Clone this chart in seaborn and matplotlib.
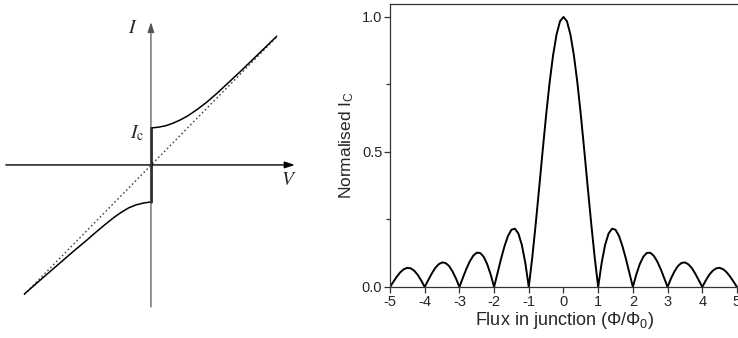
import numpy as np
import matplotlib
matplotlib.use("Agg")
import matplotlib.pyplot as plt
import seaborn as sns

# --- left panel: schematic I-V curve (units of Ic) ---
upper_v = [0, 0.2, 0.4, 0.6, 0.8, 1.0, 1.25, 1.5, 1.8, 2.1, 2.4, 2.7, 3.0, 3.4]
upper_i = [1.0, 1.02, 1.06, 1.13, 1.22, 1.33, 1.50, 1.69, 1.95, 2.23, 2.51, 2.80, 3.09, 3.48]
lower_v = [0, -0.2, -0.4, -0.6, -0.8, -1.0, -1.25, -1.5, -1.8, -2.1, -2.4, -2.7, -3.0, -3.42]
lower_i = [-1.0, -1.03, -1.08, -1.16, -1.28, -1.42, -1.62, -1.83, -2.09, -2.34, -2.60, -2.86, -3.12, -3.49]
ohm_v = [-3.43, 3.41]
ohm_i = [-3.51, 3.47]
super_v = [0, 0]
super_i = [-1.0, 1.0]

# --- right panel: Fraunhofer pattern ---
flux = np.linspace(-5, 5, 101)
ic_norm = [
    0.000, 0.020, 0.039, 0.055, 0.066, 0.071, 0.069, 0.060, 0.045, 0.024,
    0.000, 0.025, 0.049, 0.070, 0.084, 0.091, 0.089, 0.078, 0.058, 0.032,
    0.000, 0.034, 0.067, 0.095, 0.116, 0.127, 0.126, 0.112, 0.085, 0.047,
    0.000, 0.052, 0.104, 0.151, 0.189, 0.212, 0.216, 0.198, 0.156, 0.089,
    0.000, 0.109, 0.234, 0.368, 0.505, 0.637, 0.757, 0.858, 0.935, 0.984,
    1.000,
    0.984, 0.935, 0.858, 0.757, 0.637, 0.505, 0.368, 0.234, 0.109, 0.000,
    0.089, 0.156, 0.198, 0.216, 0.212, 0.189, 0.151, 0.104, 0.052, 0.000,
    0.047, 0.085, 0.112, 0.126, 0.127, 0.116, 0.095, 0.067, 0.034, 0.000,
    0.032, 0.058, 0.078, 0.089, 0.091, 0.084, 0.070, 0.049, 0.025, 0.000,
    0.024, 0.045, 0.060, 0.069, 0.071, 0.066, 0.055, 0.039, 0.020, 0.000,
]
x_ticks = [-5, -4, -3, -2, -1, 0, 1, 2, 3, 4, 5]
y_ticks = [0.0, 0.5, 1.0]
y_minor = [0.25, 0.75]

sns.set_style("ticks")
plt.rcParams["font.family"] = ["Liberation Sans", "DejaVu Sans"]
plt.rcParams["axes.unicode_minus"] = False
plt.rcParams["mathtext.fontset"] = "custom"
plt.rcParams["mathtext.rm"] = "Liberation Sans"
plt.rcParams["mathtext.it"] = "Liberation Sans:italic"

fig = plt.figure(figsize=(7.38, 3.38), dpi=100)

# left schematic
ax1 = fig.add_axes([0, 0, 310 / 738, 1])
ax1.set_xlim(-4.08, 4.30)
ax1.set_ylim(-4.68, 4.46)
ax1.axis("off")

arrow = dict(arrowstyle="-|>,head_length=0.6,head_width=0.2", lw=1.0,
             color="k", shrinkA=0, shrinkB=0, mutation_scale=10)
ax1.annotate("", xy=(3.89, 0), xytext=(-3.92, 0), arrowprops=arrow)
ax1.annotate("", xy=(0, 3.86), xytext=(0, -3.84),
             arrowprops=dict(arrow, color="#555555", lw=0.9))

sns.lineplot(x=ohm_v, y=ohm_i, ax=ax1, color="#444444", lw=1.0,
             linestyle=(0, (1.2, 1.8)), estimator=None, sort=False)
sns.lineplot(x=upper_v, y=upper_i, ax=ax1, color="k", lw=1.1,
             estimator=None, sort=False)
sns.lineplot(x=lower_v, y=lower_i, ax=ax1, color="k", lw=1.1,
             estimator=None, sort=False)
sns.lineplot(x=super_v, y=super_i, ax=ax1, color="k", lw=1.8,
             estimator=None, sort=False)

ax1.text(-0.5, 3.68, r"$I$", fontsize=14, ha="center", va="center",
         math_fontfamily="stix")
ax1.text(3.73, -0.41, r"$V$", fontsize=14, ha="center", va="center",
         math_fontfamily="stix")
ax1.text(-0.18, 0.86, r"$I_{\mathrm{c}}$", fontsize=14, ha="right",
         va="center", math_fontfamily="stix")

# right Fraunhofer pattern
ax2 = fig.add_axes([390 / 738, 51 / 338, 348.7 / 738, 283 / 338])
sns.lineplot(x=flux, y=ic_norm, ax=ax2, color="k", lw=1.4)
ax2.set_xlim(-5, 5.05)
ax2.set_ylim(0, 1.048)
ax2.set_xticks(x_ticks)
ax2.set_xticklabels([str(t) for t in x_ticks])
ax2.set_yticks(y_ticks)
ax2.set_yticklabels([f"{t:.1f}" for t in y_ticks])
ax2.set_yticks(y_minor, minor=True)
for s in ax2.spines.values():
    s.set_color("#333333")
    s.set_linewidth(0.9)
ax2.tick_params(which="major", direction="out", length=4, width=0.9,
                color="#333333", labelsize=10.5, pad=1.5)
ax2.tick_params(which="minor", direction="out", length=3, width=0.9,
                color="#333333")
ax2.set_xlabel(r"Flux in junction (Φ/$\mathrm{Φ}_{0}$)", fontsize=13,
               labelpad=1, math_fontfamily="custom")
ax2.set_ylabel(r"Normalised I$_{\mathrm{C}}$", fontsize=12.5, labelpad=4,
               math_fontfamily="custom")

fig.savefig("out.png", dpi=100)
